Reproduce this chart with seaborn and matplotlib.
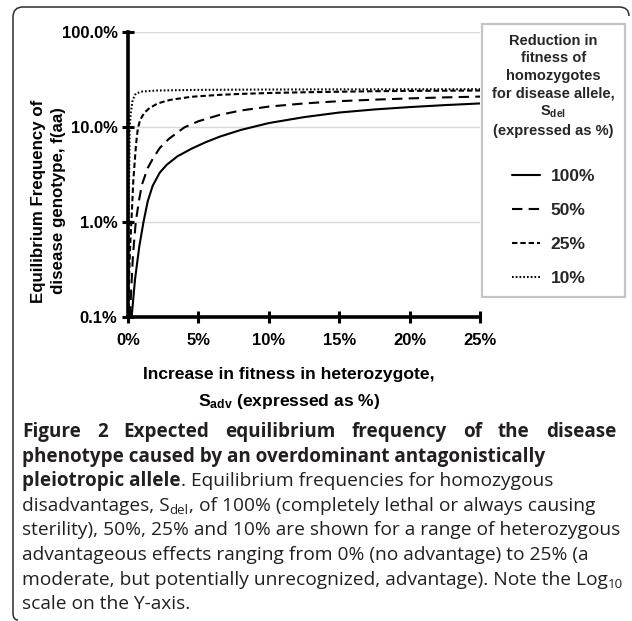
import matplotlib
matplotlib.use("Agg")
import matplotlib.pyplot as plt
import seaborn as sns
import pandas as pd
from matplotlib.font_manager import FontProperties
from matplotlib.lines import Line2D
from matplotlib.path import Path
from matplotlib.patches import PathPatch
from matplotlib.ticker import NullLocator

# ---------------- data ----------------
s_del_levels = ["100%", "50%", "25%", "10%"]

x_ticks = [0, 5, 10, 15, 20, 25]
x_tick_labels = ["0%", "5%", "10%", "15%", "20%", "25%"]
y_ticks = [0.1, 1, 10, 100]
y_tick_labels = ["0.1%", "1.0%", "10.0%", "100.0%"]

# S_del = 100 %
x_100 = [0.2, 0.5, 0.8, 1.1, 1.4, 1.75, 2.25, 2.75, 3.5, 4.5, 5.5, 6.5, 8, 10,
         12.5, 15, 17.5, 20, 22.5, 25]
y_100 = [0.08, 0.25, 0.55, 1.0, 1.65, 2.4, 3.3, 4.0, 4.9, 5.9, 6.9, 7.9, 9.3, 11.0,
         12.7, 14.2, 15.3, 16.2, 17.0, 17.7]
# S_del = 50 %
x_50 = [0.1, 0.2, 0.35, 0.55, 0.8, 1.0, 1.4, 1.75, 2.25, 2.9, 4.0, 5, 6.5, 8, 10,
        12.5, 15, 17.5, 20, 22.5, 25]
y_50 = [0.045, 0.16, 0.44, 1.0, 1.75, 2.5, 3.7, 4.6, 6.0, 7.5, 9.9, 11.5, 13.4, 14.9, 16.4,
        17.7, 18.7, 19.4, 20.0, 20.5, 20.9]
# S_del = 25 %
x_25 = [0.03, 0.07, 0.15, 0.24, 0.38, 0.55, 0.63, 0.71, 0.85, 1.0, 1.2, 1.5, 2.1, 3, 4.5,
        6.5, 8, 10, 12.5, 15, 17.5, 20, 22.5, 25]
y_25 = [0.08, 0.245, 0.55, 1.0, 2.77, 6.0, 8.0, 9.8, 11.7, 12.9, 14.3, 15.7, 17.7, 19.3, 20.8,
        21.8, 22.3, 22.8, 23.2, 23.5, 23.8, 24.0, 24.1, 24.2]
# S_del = 10 %
x_10 = [0.01, 0.02, 0.05, 0.08, 0.12, 0.19, 0.33, 0.55, 1.0, 2, 5, 10, 15, 20, 25]
y_10 = [0.05, 0.1, 1.0, 3.0, 10.0, 13.9, 19.2, 22.5, 23.6, 24.2, 24.6, 24.8, 24.9, 24.95, 25.0]

legend_title = ("Reduction in\nfitness of\nhomozygotes\nfor disease allele,\n"
                "S$_{del}$\n(expressed as %)")
x_label = "Increase in fitness in heterozygote,\nS$_{adv}$ (expressed as %)"
y_label = "Equilibrium Frequency of\ndisease genotype, f(aa)"

# ---------------- style ----------------
sns.set_theme(style="white")
plt.rcParams["font.family"] = ["Liberation Sans", "DejaVu Sans"]
plt.rcParams["font.weight"] = "bold"
plt.rcParams["mathtext.fontset"] = "custom"
plt.rcParams["mathtext.rm"] = "Liberation Sans:bold"
plt.rcParams["mathtext.it"] = "Liberation Sans:bold"
plt.rcParams["mathtext.bf"] = "Liberation Sans:bold"

W, H = 632, 621
fig = plt.figure(figsize=(W / 100, H / 100), dpi=100)
fig.patch.set_facecolor("white")


def fx(px):
    return px / W


def fy(py):
    return 1 - py / H


ax = fig.add_axes([fx(128), fy(317), (480 - 128) / W, (317 - 32) / H])

frames = []
for lvl, xs, ys in zip(s_del_levels, [x_100, x_50, x_25, x_10], [y_100, y_50, y_25, y_10]):
    frames.append(pd.DataFrame({"s_adv": xs, "freq": ys, "s_del": lvl}))
df = pd.concat(frames, ignore_index=True)

dash_map = {"100%": "", "50%": (5, 3), "25%": (2.6, 1.4), "10%": (0.8, 1.0)}
sns.lineplot(data=df, x="s_adv", y="freq", style="s_del", style_order=s_del_levels,
             dashes=dash_map, color="black", linewidth=1.5, estimator=None,
             sort=False, legend=False, ax=ax)

ax.set_yscale("log")
ax.set_xlim(0, 25)
ax.set_ylim(0.1, 100)
ax.set_xticks(x_ticks)
ax.set_xticklabels(x_tick_labels)
ax.set_yticks(y_ticks)
ax.set_yticklabels(y_tick_labels)
ax.yaxis.set_minor_locator(NullLocator())
ax.xaxis.set_minor_locator(NullLocator())

tick_font = 12
ax.tick_params(axis="both", which="major", direction="inout", length=8, width=2.2,
               color="black", labelcolor="black", labelsize=tick_font, bottom=True, left=True)
ax.tick_params(axis="x", pad=7.5)
ax.tick_params(axis="y", pad=3.5)
for lab in ax.get_xticklabels() + ax.get_yticklabels():
    lab.set_fontweight("bold")

ax.grid(False)
ax.yaxis.grid(True, color="#d9d9d9", linewidth=1.0)
ax.set_axisbelow(True)
for side in ["top", "right"]:
    ax.spines[side].set_visible(False)
for side in ["left", "bottom"]:
    ax.spines[side].set_visible(True)
    ax.spines[side].set_color("black")
    ax.spines[side].set_linewidth(2.6)

ax.set_xlabel(x_label, fontsize=12.6, fontweight="bold", color="black", linespacing=1.65)
ax.xaxis.label.set(va="center", ha="center")
ax.xaxis.set_label_coords((289 - 128) / 352, (317 - 389) / 285)
ax.set_ylabel(y_label, fontsize=12.2, fontweight="bold", color="black", linespacing=1.45)
ax.yaxis.label.set(va="center", ha="center", rotation_mode="default")
ax.yaxis.set_label_coords((48.5 - 128) / 352, (317 - 201) / 285)

# legend
handles = [Line2D([], [], color="black", lw=1.5, dashes=dash_map[l]) if dash_map[l] else
           Line2D([], [], color="black", lw=1.5) for l in s_del_levels]
leg = ax.legend(handles, s_del_levels, title=legend_title, loc="upper left",
                bbox_to_anchor=(fx(482), fy(24)), bbox_transform=fig.transFigure,
                frameon=True, fancybox=False, framealpha=1, edgecolor="#c4c4c4",
                borderpad=0.58, labelspacing=1.09, handlelength=1.6, handletextpad=0.63,
                borderaxespad=0,
                prop=FontProperties(family="Liberation Sans", weight="bold", size=12.5),
                title_fontproperties=FontProperties(family="Liberation Sans", weight="bold",
                                                    size=10.5),
                alignment="center")
leg.get_frame().set_linewidth(1.6)
leg.get_title().set_multialignment("center")
leg.get_title().set_linespacing(1.31)
try:
    leg._legend_box.sep = 22.5
except Exception:
    pass

# outer frame (top and left rule with rounded corners)
verts = [(18, 620), (13, 620), (13, 613), (13, 17), (13, 7), (23, 7), (619, 7), (629, 7), (629, 16)]
codes = [Path.MOVETO, Path.CURVE3, Path.CURVE3, Path.LINETO, Path.CURVE3, Path.CURVE3,
         Path.LINETO, Path.CURVE3, Path.CURVE3]
frame_path = Path([(fx(a), fy(b)) for a, b in verts], codes)
fig.add_artist(PathPatch(frame_path, transform=fig.transFigure, fill=False,
                         edgecolor="#2d2d2d", lw=1.1))

# ---------------- caption ----------------
renderer = fig.canvas.get_renderer()
cap_color = "#231f20"


def width_of(s, fp):
    t1 = fig.text(0, 0, "|" + s + "|", fontproperties=fp)
    t2 = fig.text(0, 0, "||", fontproperties=fp)
    w = t1.get_window_extent(renderer).width - t2.get_window_extent(renderer).width
    t1.remove()
    t2.remove()
    return w


cap_line1 = "Figure 2 Expected equilibrium frequency of the disease"
cap_line2 = "phenotype caused by an overdominant antagonistically"
cap_line5 = "sterility), 50%, 25% and 10% are shown for a range of heterozygous"

fp_b = FontProperties(family="Open Sans", weight="bold", size=12)
fp_b = FontProperties(family="Open Sans", weight="bold",
                      size=12 * 524 / width_of(cap_line2, fp_b))
fp_r = FontProperties(family="Open Sans", weight="normal", size=12)
reg_size = 12 * 594 / width_of(cap_line5, fp_r)
fp_r = FontProperties(family="Open Sans", weight="normal", size=reg_size)
fp_sub = FontProperties(family="Open Sans", weight="normal", size=reg_size * 0.7)

x0 = 22
base0 = 437
step = 24.6


def draw_line(base_y, segs, x=x0):
    for txt, fp, dy in segs:
        fig.text(fx(x), fy(base_y + dy), txt, fontproperties=fp, ha="left",
                 va="baseline", color=cap_color)
        x += width_of(txt, fp)


# line 1, justified
words = cap_line1.split()
ws = [width_of(w, fp_b) for w in words]
gap = (616 - x0 - sum(ws)) / (len(words) - 1)
xx = x0
for w, wd in zip(words, ws):
    fig.text(fx(xx), fy(base0), w, fontproperties=fp_b, ha="left", va="baseline",
             color=cap_color)
    xx += wd + gap

draw_line(base0 + step, [(cap_line2, fp_b, 0)])
draw_line(base0 + 2 * step, [("pleiotropic allele", fp_b, 0),
                             (". Equilibrium frequencies for homozygous", fp_r, 0)])
draw_line(base0 + 3 * step, [("disadvantages, S", fp_r, 0), ("del", fp_sub, 3.5),
                             (", of 100% (completely lethal or always causing", fp_r, 0)])
draw_line(base0 + 4 * step, [(cap_line5, fp_r, 0)])
draw_line(base0 + 5 * step, [("advantageous effects ranging from 0% (no advantage) to 25% (a",
                              fp_r, 0)])
draw_line(base0 + 6 * step, [("moderate, but potentially unrecognized, advantage). Note the Log",
                              fp_r, 0), ("10", fp_sub, 3.5)])
draw_line(base0 + 7 * step, [("scale on the Y-axis.", fp_r, 0)])

fig.savefig("out.png", dpi=100)
